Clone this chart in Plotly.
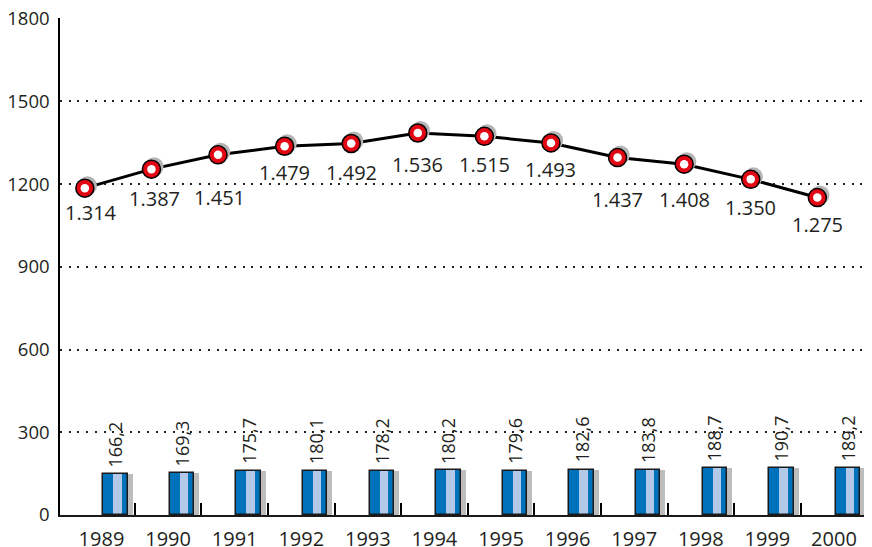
import plotly.graph_objects as go

years = ['1989', '1990', '1991', '1992', '1993', '1994', '1995', '1996', '1997', '1998', '1999', '2000']
line_values = [1185, 1254, 1306, 1337, 1347, 1385, 1373, 1349, 1296, 1272, 1217, 1151]
line_labels = ['1.314', '1.387', '1.451', '1.479', '1.492', '1.536', '1.515', '1.493', '1.437', '1.408', '1.350', '1.275']
bar_values = [148.5, 151, 159, 160.5, 159, 161.5, 160.5, 164, 163.5, 169, 170, 169]
bar_labels = ['166,2', '169,3', '175,7', '180,1', '178,2', '180,2', '179,6', '182,6', '183,8', '188,7', '190,7', '189,2']
y_ticks = [0, 300, 600, 900, 1200, 1500, 1800]

# styling (pixel offsets of the line value labels below their markers)
label_dy = [24.5, 29.5, 43, 26.5, 29, 31.5, 28, 27, 41.5, 35, 28.5, 27]
label_dx = [6, 3, 1, 0, 0, 0, 0, 0, 0, 0, 0, 0]

FONT = 'Open Sans'
TXT = '#231F20'
idx = list(range(len(years)))
line_x = [i - 0.25 for i in idx]
bar_x = [i + 0.21 for i in idx]
BW = 0.366

fig = go.Figure()
# bar shadow
fig.add_trace(go.Bar(x=[b + 0.075 for b in bar_x], y=bar_values, width=BW,
                     marker=dict(color='#BDBDBD', line=dict(width=0)), hoverinfo='skip'))
# bar body
fig.add_trace(go.Bar(x=bar_x, y=bar_values, width=BW,
                     marker=dict(color='#0072BC', line=dict(width=0))))
# highlight stripe
fig.add_trace(go.Bar(x=[b + 0.03 for b in bar_x], y=bar_values, width=0.125,
                     marker=dict(color='#B3C9E8', line=dict(width=0)), hoverinfo='skip'))
# outline
fig.add_trace(go.Bar(x=bar_x, y=bar_values, width=BW,
                     marker=dict(color='rgba(0,0,0,0)', line=dict(width=1.5, color='#1a1a1a')),
                     hoverinfo='skip'))

# line
fig.add_trace(go.Scatter(x=line_x, y=line_values, mode='lines',
                         line=dict(color='black', width=3), hoverinfo='skip'))
# marker shadow
fig.add_trace(go.Scatter(x=[x + 0.04 for x in line_x], y=[v + 9 for v in line_values], mode='markers',
                         marker=dict(size=19, color='#B5B5B5', line=dict(width=0)), hoverinfo='skip'))
# marker
fig.add_trace(go.Scatter(x=line_x, y=line_values, mode='markers',
                         marker=dict(size=18, color='#E30613', line=dict(width=1.5, color='black'))))
fig.add_trace(go.Scatter(x=line_x, y=line_values, mode='markers',
                         marker=dict(size=8.5, color='white', line=dict(width=0)), hoverinfo='skip'))

annotations = []
for i in idx:
    annotations.append(dict(x=line_x[i], y=line_values[i], xref='x', yref='y', text=line_labels[i],
                            showarrow=False, xanchor='center', yanchor='middle',
                            yshift=-label_dy[i], xshift=label_dx[i],
                            font=dict(family=FONT, size=20, color=TXT)))
    annotations.append(dict(x=bar_x[i], y=bar_values[i], xref='x', yref='y', text=bar_labels[i],
                            showarrow=False, textangle=-90, xanchor='center', yanchor='middle',
                            yshift=30, font=dict(family=FONT, size=18, color=TXT)))

xr = [-0.623, 11.571]
fig.update_layout(
    width=872, height=547,
    margin=dict(l=52, r=8, t=10, b=40),
    paper_bgcolor='white', plot_bgcolor='white',
    barmode='overlay', bargap=0,
    showlegend=False,
    annotations=annotations,
    font=dict(family=FONT, color=TXT),
    xaxis=dict(range=xr, tickvals=[i + 0.5 for i in idx], showticklabels=False,
               ticks='inside', ticklen=12, tickwidth=1.5, tickcolor='black',
               showgrid=False, zeroline=False, showline=True, linecolor='#1a1a1a', linewidth=1.5,
               automargin=False, fixedrange=True),
    xaxis2=dict(range=xr, overlaying='x', anchor='y', side='bottom', tickvals=idx, ticktext=years,
                ticks='', showgrid=False, zeroline=False, showline=False,
                tickfont=dict(family=FONT, size=20, color=TXT), ticklabelstandoff=10, automargin=False,
                ticklabeloverflow='allow'),
    yaxis=dict(range=[0, 1802], tickvals=y_ticks, ticks='', showgrid=True, gridcolor='#222',
               griddash='2px,6.7px', gridwidth=1.5, zeroline=False,
               showline=True, linecolor='black', linewidth=1.5,
               tickfont=dict(family=FONT, size=18.5, color=TXT), ticklabelstandoff=5, automargin=False,
               ticklabeloverflow='allow'),
)
# dummy trace to activate xaxis2
fig.add_trace(go.Scatter(x=[0], y=[0], xaxis='x2', mode='markers', marker=dict(opacity=0), hoverinfo='skip'))

fig.write_html('out.html')
